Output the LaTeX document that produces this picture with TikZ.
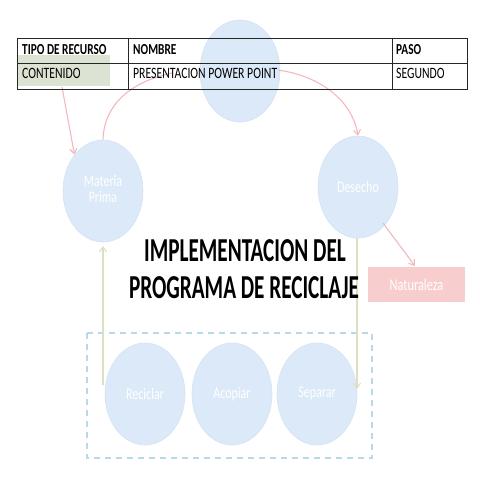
\documentclass[tikz,border=0pt]{standalone}
\usepackage{graphicx}
\usepackage{fontspec}
\setmainfont{Carlito}
\usetikzlibrary{arrows.meta,shapes.geometric}
\definecolor{cfill}{HTML}{DCE9F8}
\definecolor{cedge}{HTML}{D3E3F4}
\definecolor{pinkarr}{HTML}{F2B8BE}
\definecolor{olivearr}{HTML}{DEDFC0}
\definecolor{natfill}{HTML}{F8CDCD}
\definecolor{greenbox}{HTML}{DCE3D2}
\definecolor{dashblue}{HTML}{B9D9EB}
\definecolor{tabline}{HTML}{262626}
\newcommand{\vstretch}[2]{\scalebox{1}[#1]{#2}}
\tikzset{
  bubble/.style={ellipse, fill=cfill, draw=cedge, line width=0.6pt, minimum width=80pt, minimum height=102pt, inner sep=0pt, text=white, font=\fontsize{12}{13}\selectfont, align=center},
  parr/.style={draw=pinkarr, line width=1.1pt, -{Straight Barb[length=5pt,width=7pt]}},
  oarr/.style={draw=olivearr, line width=1.1pt, -{Straight Barb[length=5pt,width=7pt]}},
  cellhead/.style={anchor=base west, font=\fontsize{11.3}{12}\selectfont\bfseries, inner sep=0pt},
  cellbody/.style={anchor=base west, font=\fontsize{11.7}{12}\selectfont, inner sep=0pt},
  tline/.style={draw=tabline, line width=0.8pt},
  titletext/.style={font=\fontsize{21.2}{23.2}\selectfont\bfseries, inner sep=0pt}
}
\begin{document}
\begin{tikzpicture}[x=1pt,y=-1pt]
\useasboundingbox[fill=white] (0,0) rectangle (480,480);
% green box behind table
\fill[greenbox] (18,55) rectangle (110,86);
% circles
\node[bubble] (top) at (240,71) {};
\node[bubble] (mp) at (103,191) {\vstretch{1.35}{\begin{tabular}{@{}c@{}}Materia\\[-1pt]Prima\end{tabular}}};
\node[bubble] (des) at (358,187) {\vstretch{1.35}{Desecho}};
\node[bubble] (rec) at (145,394) {\vstretch{1.35}{Reciclar}};
\node[bubble] (aco) at (232,394) {\vstretch{1.35}{Acopiar}};
\node[bubble] (sep) at (317,394) {\vstretch{1.35}{Separar}};
% Naturaleza
\node[fill=natfill, minimum width=97pt, minimum height=35pt, inner sep=0pt, text=white, font=\fontsize{12.3}{13}\selectfont] (nat) at (416.5,284.5) {\vstretch{1.35}{Naturaleza}};
% dashed box
\draw[dashblue, line width=1.1pt, dash pattern=on 6pt off 5pt] (87,333) rectangle (372,458);
% connectors
\coordinate (gb) at (62,87);
\draw[parr] (gb) -- (mp.north west);
\coordinate (a2) at (172,73);
\draw[pinkarr, line width=1.1pt] (mp.north) .. controls (104,105) and (130,82) .. (a2);
\coordinate (b1) at (278,70);
\draw[parr] (b1) .. controls (320,76) and (352,100) .. (des.north);
\coordinate (d1) at (383,223);
\coordinate (nt) at (415,266);
\draw[parr] (d1) -- (nt);
\coordinate (ds) at (357,238);
\coordinate (sp) at (357,389);
\draw[oarr] (ds) -- (sp);
\coordinate (rc) at (103,385);
\coordinate (mpb) at (103,246);
\draw[oarr] (rc) -- (mpb);
% title
\node[titletext, anchor=base] (title1) at (245,261.7) {\vstretch{1.58}{IMPLEMENTACION DEL}};
\node[titletext, anchor=base] (title2) at (244,298.3) {\vstretch{1.58}{PROGRAMA DE RECICLAJE}};
% table
\draw[tline] (17,38) rectangle (467,89);
\draw[tline] (17,63.5) -- (467,63.5);
\draw[tline] (128,38) -- (128,89);
\draw[tline] (392,38) -- (392,89);
\node[cellhead] (h1) at (22,54.3) {\vstretch{1.35}{TIPO DE RECURSO}};
\node[cellhead] (h2) at (133,54.3) {\vstretch{1.35}{NOMBRE}};
\node[cellhead] (h3) at (396,54.3) {\vstretch{1.35}{PASO}};
\node[cellbody] (c1) at (22,78.3) {\vstretch{1.35}{CONTENIDO}};
\node[cellbody] (c2) at (133,78.3) {\vstretch{1.35}{PRESENTACION POWER POINT}};
\node[cellbody] (c3) at (396,78.3) {\vstretch{1.35}{SEGUNDO}};
\end{tikzpicture}
\end{document}
